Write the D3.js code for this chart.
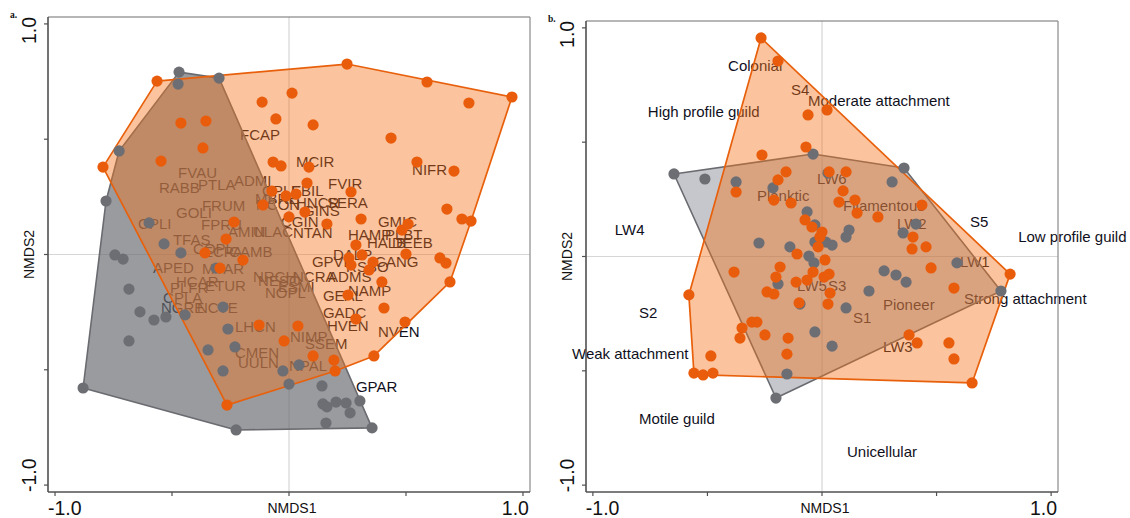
<!DOCTYPE html>
<html><head><meta charset="utf-8">
<script src="https://cdn.jsdelivr.net/npm/d3@7"></script>
<style>body{margin:0;background:#fff}svg{display:block}</style>
</head><body>
<svg id="chart" width="1130" height="518"></svg>
<script>
// ---------- shared ----------
const axisTicks = [-1, -0.5, 0, 0.5, 1];
const labelledTicks = [-1, 1];
const tickText = d => d.toFixed(1);

// ---------- panel a: site scores ----------
const aGray = [
[-0.470,0.791],[-0.474,0.739],[-0.299,0.765],[-0.726,0.449],[-0.782,0.232],[-0.598,0.137],
[-0.534,0.046],[-0.462,0.007],[-0.744,-0.002],[-0.709,-0.020],[-0.312,-0.059],[-0.684,-0.150],
[-0.637,-0.249],[-0.577,-0.284],[-0.526,-0.271],[-0.444,-0.262],[-0.282,-0.228],[-0.684,-0.375],
[-0.261,-0.323],[-0.346,-0.414],[-0.231,-0.401],[-0.282,-0.505],[-0.880,-0.579],[-0.226,-0.761],
[-0.026,-0.505],[0.043,-0.479],[0.000,-0.562],[0.141,-0.570],[0.145,-0.648],[0.162,-0.661],
[0.201,-0.640],[0.244,-0.644],[0.303,-0.635],[0.261,-0.687],[0.158,-0.731],[0.355,-0.752]
];
const aOrange = [
[-0.564,0.752],[-0.795,0.379],[-0.547,0.405],[-0.462,0.570],[-0.355,0.579],[-0.368,0.462],
[-0.115,0.661],[-0.056,0.588],[0.013,0.700],[0.103,0.562],[0.248,0.826],[0.590,0.748],
[0.953,0.683],[0.769,0.657],[0.436,0.505],[0.547,0.401],[0.705,0.362],[-0.068,0.401],
[-0.034,0.384],[0.085,0.379],[0.077,0.310],[-0.073,0.275],[-0.013,0.254],[0.030,0.262],
[0.265,0.271],[-0.111,0.215],[0.068,0.184],[0.000,0.163],[0.162,0.132],[0.308,0.154],
[0.675,0.197],[0.739,0.154],[0.778,0.145],[0.483,0.106],[0.509,0.132],[-0.235,0.141],
[-0.269,0.067],[-0.359,0.007],[-0.197,-0.024],[-0.295,-0.059],[0.286,0.041],[0.256,-0.015],
[0.312,-0.002],[0.265,-0.046],[0.359,-0.033],[0.342,-0.067],[0.500,0.002],[0.645,-0.015],
[0.671,-0.037],[0.688,-0.119],[0.397,-0.119],[0.252,-0.176],[0.406,-0.232],[0.286,-0.280],
[0.496,-0.293],[-0.128,-0.306],[0.038,-0.310],[-0.021,-0.375],[0.103,-0.440],[0.192,-0.458],
[0.197,-0.505],[0.363,-0.440],[-0.265,-0.653]
];
// species labels: [code, NMDS1, NMDS2] (text start / baseline)
const aSpecies = [
["FCAP",-0.209,0.497],["MCIR",0.030,0.379],["NIFR",0.526,0.345],["FVIR",0.167,0.284],
["SERA",0.162,0.202],["GMIC",0.380,0.119],["HAMP",0.252,0.063],["PLBT",0.410,0.063],
["HALB",0.333,0.028],["DEEB",0.440,0.028],["NTAN",0.017,0.072],["FVAU",-0.474,0.332],
["RABB",-0.556,0.267],["PTLA",-0.389,0.280],["ADMI",-0.235,0.297],["FRUM",-0.372,0.189],
["GOLI",-0.483,0.158],["CPLI",-0.645,0.111],["FPRU",-0.376,0.106],["AMIN",-0.261,0.076],
["ULAC",-0.154,0.076],["TFAS",-0.496,0.041],["COPL",-0.410,0.002],["ECPA",-0.368,-0.011],
["CAMB",-0.256,-0.011],["APED",-0.581,-0.080],["MYAR",-0.372,-0.085],["HCAR",-0.483,-0.141],
["PLFR",-0.509,-0.167],["ETUR",-0.359,-0.158],["NRCH",-0.154,-0.119],["NESO",-0.132,-0.137],
["ESMI",-0.047,-0.163],["NOPL",-0.103,-0.189],["NCRA",0.017,-0.119],["ADMS",0.167,-0.119],
["DALP",0.188,-0.024],["GPVE",0.098,-0.054],["RSBO",0.244,-0.076],["CANG",0.368,-0.054],
["GEAL",0.145,-0.202],["NAMP",0.252,-0.180],["GADC",0.145,-0.275],["HVEN",0.162,-0.332],
["NVEN",0.380,-0.358],["NIMP",0.004,-0.379],["SSEM",0.068,-0.410],["NPAL",0.000,-0.505],
["GPAR",0.286,-0.596],["LHCN",-0.231,-0.336],["CMEN",-0.231,-0.449],["UULN",-0.218,-0.492],
["CPLA",-0.538,-0.210],["NGRE",-0.547,-0.254],["NCTE",-0.393,-0.254],["CPLE",-0.115,0.254],
["EBIL",0.009,0.254],["MBRE",-0.145,0.219],["NCON",-0.141,0.193],["HNCR",0.030,0.202],
["GINS",0.060,0.167],["CGIN",-0.034,0.119]
];

// ---------- panel b: site scores ----------
const bGray = [
[-0.039,0.448],[-0.646,0.361],[-0.511,0.339],[-0.375,0.326],[-0.214,0.300],[0.026,0.365],
[0.306,0.326],[0.358,0.387],[-0.065,0.195],[-0.031,0.138],[0.118,0.116],[0.105,0.085],
[0.354,0.103],[0.410,0.142],[-0.275,0.059],[-0.140,0.042],[-0.031,0.063],[0.017,0.063],
[0.044,0.050],[-0.057,0.002],[-0.035,-0.028],[0.271,-0.063],[0.323,-0.081],[0.367,-0.112],
[0.589,-0.028],[-0.192,-0.120],[0.205,-0.151],[0.105,-0.225],[-0.096,-0.208],[-0.031,-0.330],
[0.044,-0.392],[-0.153,-0.514],[-0.201,-0.619],[0.781,-0.151]
];
const bOrange = [
[-0.266,0.956],[-0.192,0.855],[-0.061,0.619],[0.022,0.641],[-0.070,0.479],[-0.262,0.444],
[-0.157,0.370],[-0.192,0.335],[-0.375,0.282],[-0.210,0.247],[-0.135,0.234],[-0.074,0.160],
[-0.044,0.129],[0.000,0.107],[-0.009,0.085],[-0.017,0.042],[-0.109,0.011],[0.031,0.370],
[0.105,0.370],[0.092,0.287],[0.074,0.238],[0.144,0.247],[0.153,0.190],[0.244,0.173],
[0.436,0.225],[0.397,0.085],[0.454,0.042],[0.393,0.033],[0.476,-0.050],[0.576,-0.138],
[0.013,-0.015],[-0.183,-0.046],[-0.039,-0.068],[-0.201,-0.090],[-0.065,-0.103],[-0.113,-0.112],
[0.009,-0.090],[0.031,-0.077],[0.035,-0.160],[0.026,-0.208],[-0.240,-0.155],[-0.210,-0.164],
[-0.100,-0.203],[-0.384,-0.068],[-0.306,-0.287],[-0.284,-0.287],[-0.349,-0.313],[-0.358,-0.357],
[-0.249,-0.343],[-0.148,-0.357],[0.380,-0.343],[0.415,-0.378],[0.554,-0.378],[0.576,-0.448],
[0.655,-0.553],[0.821,-0.077],[-0.581,-0.168],[-0.153,-0.427],[-0.485,-0.435],[-0.559,-0.510],
[-0.519,-0.518],[-0.476,-0.510]
];
const bTraits = [
["Colonial",-0.410,0.811],["S4",-0.135,0.707],["Moderate attachment",-0.061,0.658],
["High profile guild",-0.760,0.610],["LW4",-0.904,0.094],["Planktic",-0.284,0.243],
["LW6",-0.022,0.317],["Filamentous",0.092,0.199],["LW2",0.327,0.120],["S5",0.646,0.129],
["Low profile guild",0.856,0.063],["LW1",0.602,-0.046],["Strong attachment",0.620,-0.208],
["Pioneer",0.266,-0.234],["S1",0.135,-0.291],["LW3",0.266,-0.418],["LW5",-0.109,-0.151],
["S3",0.026,-0.151],["Unicellular",0.109,-0.877],["S2",-0.799,-0.269],
["Weak attachment",-1.091,-0.448],["Motile guild",-0.799,-0.733]
];

// ---------- drawing ----------
const svg = d3.select("#chart");
const FONT = "'Liberation Sans', Arial, Helvetica, sans-serif";
const ORANGE = "#e95c0c", GRAYPT = "#6d6e73";

function drawPanel(cfg, gray, orange, labels) {
  const g = svg.append("g");
  const x = d3.scaleLinear().domain([-1.03, 1.03]).range([cfg.left, cfg.right]);
  const y = d3.scaleLinear().domain([-1.03, 1.03]).range([cfg.bottom, cfg.top]);

  // zero grid lines
  g.append("line").attr("x1", x(0)).attr("x2", x(0)).attr("y1", cfg.top).attr("y2", cfg.bottom)
    .attr("stroke", "#d6d6d6").attr("stroke-width", 1.2);
  g.append("line").attr("x1", cfg.left).attr("x2", cfg.right).attr("y1", y(0)).attr("y2", y(0))
    .attr("stroke", "#d6d6d6").attr("stroke-width", 1.2);

  // labels (beneath the hulls)
  g.append("g").selectAll("text").data(labels).join("text")
    .attr("x", d => x(d[1])).attr("y", d => y(d[2]))
    .attr("font-family", FONT).attr("font-size", 15)
    .attr("fill", "#10101c").text(d => d[0]);

  // hulls
  const gh = d3.polygonHull(gray.map(d => [x(d[0]), y(d[1])]));
  g.append("path").attr("d", "M" + gh.join("L") + "Z")
    .attr("fill", cfg.grayFill).attr("stroke", "#6a6b70").attr("stroke-width", 1.6)
    .attr("stroke-linejoin", "round");
  const oh = d3.polygonHull(orange.map(d => [x(d[0]), y(d[1])]));
  g.append("path").attr("d", "M" + oh.join("L") + "Z")
    .attr("fill", "rgba(245,115,25,0.42)").attr("stroke", "#e8600c").attr("stroke-width", 1.7)
    .attr("stroke-linejoin", "round");

  // points
  g.append("g").selectAll("circle").data(gray).join("circle")
    .attr("cx", d => x(d[0])).attr("cy", d => y(d[1])).attr("r", 5.6).attr("fill", GRAYPT);
  g.append("g").selectAll("circle").data(orange).join("circle")
    .attr("cx", d => x(d[0])).attr("cy", d => y(d[1])).attr("r", 5.6).attr("fill", ORANGE);

  // frame
  g.append("line").attr("x1", cfg.left).attr("x2", cfg.right).attr("y1", cfg.top).attr("y2", cfg.top)
    .attr("stroke", "#6f6f6f").attr("stroke-width", 1.2);
  g.append("line").attr("x1", cfg.right).attr("x2", cfg.right).attr("y1", cfg.top).attr("y2", cfg.bottom)
    .attr("stroke", "#8a8a8a").attr("stroke-width", 1.2);
  g.append("line").attr("x1", cfg.left).attr("x2", cfg.left).attr("y1", cfg.top).attr("y2", cfg.bottom)
    .attr("stroke", "#505050").attr("stroke-width", 1.6);
  g.append("line").attr("x1", cfg.left).attr("x2", cfg.right).attr("y1", cfg.bottom).attr("y2", cfg.bottom)
    .attr("stroke", "#505050").attr("stroke-width", 1.6);

  // ticks
  g.append("g").selectAll("line").data(axisTicks).join("line")
    .attr("x1", cfg.left - 4).attr("x2", cfg.left).attr("y1", d => y(d)).attr("y2", d => y(d))
    .attr("stroke", "#505050").attr("stroke-width", 1.2);
  g.append("g").selectAll("line").data(axisTicks).join("line")
    .attr("x1", d => x(d)).attr("x2", d => x(d)).attr("y1", cfg.bottom).attr("y2", cfg.bottom + 4)
    .attr("stroke", "#505050").attr("stroke-width", 1.2);

  // tick labels
  g.append("g").selectAll("text").data(labelledTicks).join("text")
    .attr("x", d => d < 0 ? x(d) - 7 : x(d) + 6).attr("y", 515)
    .attr("text-anchor", d => d < 0 ? "start" : "end")
    .attr("font-family", FONT).attr("font-size", 19.5).attr("fill", "#111").text(tickText);
  g.append("g").selectAll("text").data(labelledTicks).join("text")
    .attr("transform", d => `translate(${cfg.left - 12},${d < 0 ? y(d) + 7 : y(d) - 7}) rotate(-90)`)
    .attr("text-anchor", d => d < 0 ? "start" : "end")
    .attr("font-family", FONT).attr("font-size", 19.5).attr("fill", "#111").text(tickText);

  // axis titles
  g.append("text").attr("x", x(0) + 3).attr("y", 513).attr("text-anchor", "middle")
    .attr("font-family", FONT).attr("font-size", 14).attr("fill", "#111").text("NMDS1");
  g.append("text").attr("transform", `translate(${cfg.left - 14},${y(0)}) rotate(-90)`)
    .attr("text-anchor", "middle")
    .attr("font-family", FONT).attr("font-size", 14).attr("fill", "#111").text("NMDS2");

  // panel letter
  g.append("text").attr("x", cfg.left - 38).attr("y", cfg.top + 1)
    .attr("font-family", "'Liberation Serif', 'DejaVu Serif', serif").attr("font-weight", "bold")
    .attr("font-size", 9.5).attr("fill", "#111").text(cfg.letter);
}

drawPanel({left: 48, right: 530, top: 17, bottom: 492, letter: "a.",
           grayFill: "rgba(104,107,113,0.68)"}, aGray, aOrange, aSpecies);
drawPanel({left: 586, right: 1058, top: 21, bottom: 492, letter: "b.",
           grayFill: "rgba(112,114,128,0.40)"}, bGray, bOrange, bTraits);
</script>
</body></html>
